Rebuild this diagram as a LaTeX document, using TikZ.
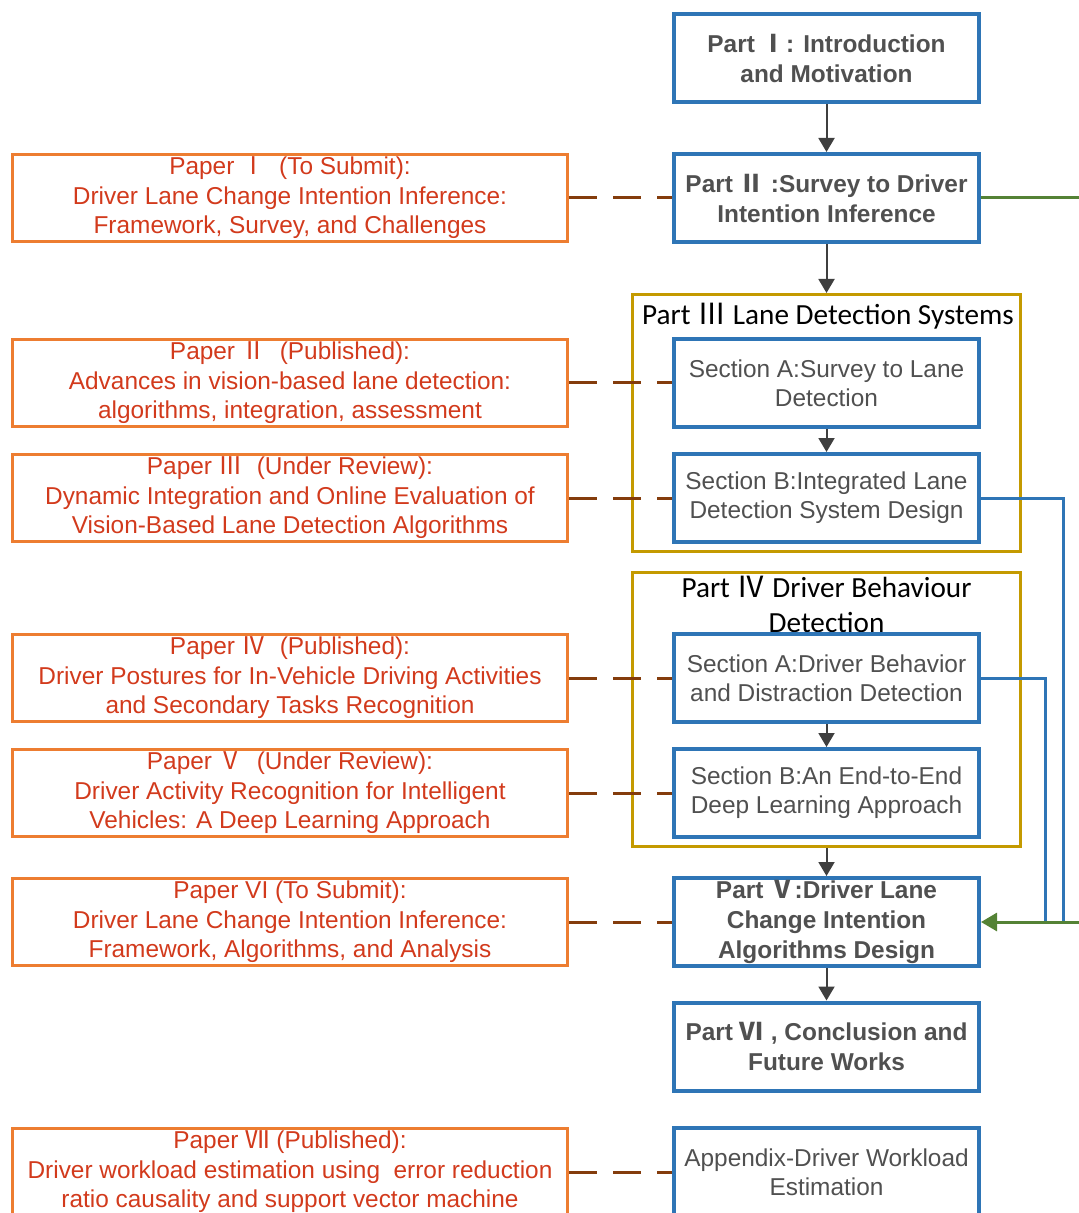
\documentclass[tikz,border=0pt]{standalone}
\usepackage{fontspec}
\setmainfont{Liberation Sans}
\newfontfamily\titlefont{Carlito}
\newfontfamily\cjk{Noto Sans CJK SC}
\usetikzlibrary{arrows.meta}

\definecolor{partblue}{HTML}{2E75B6}
\definecolor{paperorange}{HTML}{ED7D31}
\definecolor{papertext}{HTML}{D23A1C}
\definecolor{framegold}{HTML}{C49A00}
\definecolor{linkbrown}{HTML}{843C0C}
\definecolor{flowgreen}{HTML}{548235}
\definecolor{boxtext}{HTML}{505050}
\definecolor{arrowgrey}{HTML}{3F3F3F}

\newcommand{\rnum}[1]{{\cjk #1}}

\begin{document}
\begin{tikzpicture}[x=0.5pt,y=-0.5pt,
		partbox/.style={draw=partblue, line width=2pt, minimum width=152.5pt, minimum height=44pt,
			inner ysep=0.5pt, align=center, text=boxtext, font=\fontsize{12.2}{15}\selectfont\bfseries},
		secbox/.style={partbox, font=\fontsize{12.2}{14.5}\selectfont},
		paperbox/.style={draw=paperorange, line width=1.5pt, minimum width=277.5pt, minimum height=43.5pt,
			inner ysep=0.2pt, align=center, text=papertext, font=\fontsize{12.2}{14.75}\selectfont},
		framebox/.style={draw=framegold, line width=1.5pt, minimum width=194pt},
		frametitle/.style={align=center, font=\titlefont\fontsize{14.6}{17.5}\selectfont},
		flow/.style={draw=arrowgrey, line width=1pt, -{Triangle[width=8pt,length=7pt]}},
		paperlink/.style={draw=linkbrown, line width=1.5pt, dash pattern=on 14pt off 8pt},
		bluelink/.style={draw=partblue, line width=1.5pt},
		greenlink/.style={draw=flowgreen, line width=1.5pt, -{Triangle[width=9pt,length=8pt]}}]
		\useasboundingbox (0,0) rectangle (1078,1213);

		% frames of part III and IV
		\node[framebox, minimum height=128.5pt] (f3) at (826.5,423) {};
		\node[framebox, minimum height=137pt] (f4) at (826.5,709.5) {};
		\node[frametitle] (t3) at (828,316) {Part \rnum{Ⅲ} Lane Detection Systems};
		\node[frametitle] (t4) at (826.5,604) {Part \rnum{Ⅳ} Driver Behaviour\\Detection};

		% main column
		\node[partbox] (p1) at (826.5,58) {Part \rnum{Ⅰ}: Introduction\\and Motivation};
		\node[partbox] (p2) at (826.5,198) {Part \rnum{Ⅱ} :Survey to Driver\\Intention Inference};
		\node[secbox] (s3a) at (826.5,383) {Section A:Survey to Lane\\Detection};
		\node[secbox] (s3b) at (826.5,498) {Section B:Integrated Lane\\Detection System Design};
		\node[secbox] (s4a) at (826.5,678) {Section A:Driver Behavior\\and Distraction Detection};
		\node[secbox] (s4b) at (826.5,793) {Section B:An End-to-End\\Deep Learning Approach};
		\node[partbox] (p5) at (826.5,922) {Part \rnum{Ⅴ}:Driver Lane\\Change Intention\\Algorithms Design};
		\node[partbox] (p6) at (826.5,1046.5) {Part \rnum{Ⅵ} , Conclusion and\\Future Works};
		\node[secbox] (app) at (826.5,1172) {Appendix-Driver Workload\\Estimation};

		% papers
		\node[paperbox] (pap1) at (290,198) {Paper \rnum{Ⅰ}\ \ (To Submit):\\Driver Lane Change Intention Inference:\\Framework, Survey, and Challenges};
		\node[paperbox] (pap2) at (290,383) {Paper \rnum{Ⅱ}\ \ (Published):\\Advances in vision-based lane detection:\\algorithms, integration, assessment};
		\node[paperbox] (pap3) at (290,498) {Paper \rnum{Ⅲ}\ \ (Under Review):\\Dynamic Integration and Online Evaluation of\\Vision-Based Lane Detection Algorithms};
		\node[paperbox] (pap4) at (290,678) {Paper \rnum{Ⅳ}\ \ (Published):\\Driver Postures for In-Vehicle Driving Activities\\and Secondary Tasks Recognition};
		\node[paperbox] (pap5) at (290,793) {Paper \rnum{Ⅴ}\ \ (Under Review):\\Driver Activity Recognition for Intelligent\\Vehicles: A Deep Learning Approach};
		\node[paperbox] (pap6) at (290,922) {Paper VI (To Submit):\\Driver Lane Change Intention Inference:\\Framework, Algorithms, and Analysis};
		\node[paperbox] (pap7) at (290,1172) {Paper \rnum{Ⅶ} (Published):\\Driver workload estimation using\ \ error reduction\\ratio causality and support vector machine};

		% flow arrows
		\draw[flow] (p1) -- (p2);
		\draw[flow] (p2) -- (f3.north);
		\draw[flow] (s3a) -- (s3b);
		\draw[flow] (s4a) -- (s4b);
		\draw[flow] (f4.south) -- (p5);
		\draw[flow] (p5) -- (p6);

		% papers to parts
		\foreach \pa/\pb in {pap1/p2, pap2/s3a, pap3/s3b, pap4/s4a, pap5/s4b, pap6/p5, pap7/app}
			\draw[paperlink] (\pa.east) -- (\pb.west);

		% feedback lines
		\coordinate (gturn) at (1084,198);
		\coordinate (j1) at (1063,922);
		\coordinate (j2) at (1045,922);
		\draw[bluelink] (s3b.east) -| (j1);
		\draw[bluelink] (s4a.east) -| (j2);
		\draw[greenlink] (p2.east) -- (gturn) |- (p5.east);
\end{tikzpicture}
\end{document}
